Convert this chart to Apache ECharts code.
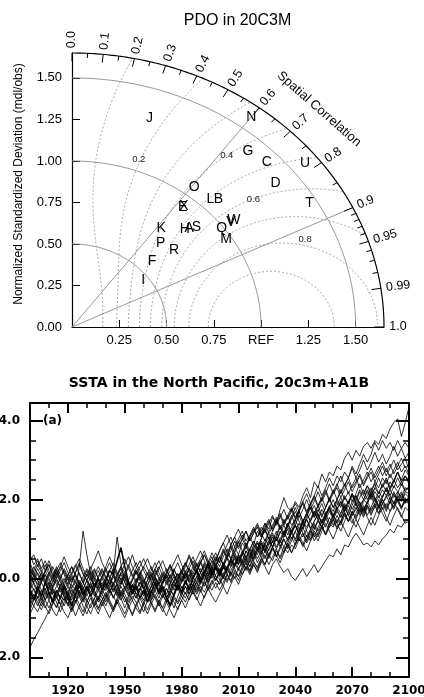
<!DOCTYPE html>
<html>
<head>
<meta charset="utf-8">
<script src="https://cdn.jsdelivr.net/npm/echarts@6/dist/echarts.min.js"></script>
<style>
html,body{margin:0;padding:0;background:#fff;}
#chart{width:424px;height:697px;}
</style>
</head>
<body>
<div id="chart"></div>
<script>
// ---------- Taylor diagram: PDO in 20C3M ----------
const stdMax = 1.65;
const modelLetters = ['A','B','C','D','E','F','G','H','I','J','K','L','M','N','O','P','Q','R','S','T','U','V','W','X'];
const modelStd  = [0.86,1.09,1.43,1.38,0.93,0.58,1.41,0.84,0.47,1.32,0.76,1.06,0.97,1.58,1.06,0.69,0.99,0.71,0.89,1.46,1.58,1.05,1.07,0.94];
const modelCorr = [0.72,0.71,0.72,0.78,0.63,0.73,0.66,0.71,0.80,0.31,0.62,0.69,0.84,0.60,0.61,0.68,0.80,0.76,0.74,0.86,0.78,0.80,0.80,0.63];
const stdArcs = [0.5, 1.0, 1.5];
const corrRays = [0.6, 0.9];
const skillLevels = [0.1,0.2,0.3,0.4,0.5,0.6,0.7,0.8,0.9];
const skillTags = ['0.2','0.4','0.6','0.8'];
const skillTagStd = [1.07,1.32,1.23,1.34];
const skillTagCorr = [0.33,0.62,0.78,0.92];
const corrMajor = [0,0.1,0.2,0.3,0.4,0.5,0.6,0.7,0.8,0.9,0.95,0.99,1.0];
const corrMajorText = ['0.0','0.1','0.2','0.3','0.4','0.5','0.6','0.7','0.8','0.9','0.95','0.99','1.0'];
const corrMinor = [0.05,0.15,0.25,0.35,0.45,0.55,0.65,0.75,0.85,0.91,0.92,0.93,0.94,0.96,0.97,0.98];
const stdTicks = [0.25,0.5,0.75,1.0,1.25,1.5];
const stdTicksY = [0,0.25,0.5,0.75,1.0,1.25,1.5];

// ---------- SSTA in the North Pacific, 20c3m+A1B ----------
const runYears = [];
for (let y = 1900; y <= 2100; y += 2) runYears.push(y);
const obsYears = [];
for (let y = 1900; y <= 2004; y += 2) obsYears.push(y);
const yearTicks = [1920,1950,1980,2010,2040,2070];
const yearLabels = [1920,1950,1980,2010,2040,2070,2100];
const sstaLabels = [-2,0,2,4];

const runA = [-1.75,-1.55,-1.38,-1.2,-1.02,-0.82,-0.6,-0.72,-0.45,-0.55, -0.38,-0.62,-0.5,-0.3,-0.44,-0.2,-0.35,-0.12,-0.28,-0.4, -0.22,-0.05,-0.3,-0.18,0.02,-0.25,-0.4,-0.15,-0.3,-0.1, -0.28,-0.05,0.1,-0.15,-0.32,-0.12,0.05,-0.2,-0.08,0.12, -0.05,0.15,-0.1,0.05,0.22,0.0,0.18,0.3,0.08,0.25,
  0.12,0.35,0.2,0.45,0.3,0.5,0.62,0.4,0.58,0.75, 0.6,0.85,0.7,0.95,0.8,1.05,0.9,1.15,1.0,1.2, 1.35,1.1,1.3,1.5,1.28,1.45,1.62,1.4,1.6,1.75, 1.55,1.8,1.65,1.9,1.7,1.95,2.1,1.85,2.0,1.9, 2.15,1.95,2.2,2.05,2.3,2.1,2.35,2.2,2.05,2.3, 2.25];
const runB = [0.2,0.05,-0.15,0.1,-0.05,-0.3,-0.1,0.15,-0.05,-0.25, -0.4,-0.15,-0.3,0.3,1.2,0.6,0.1,-0.2,0.0,-0.25, -0.3,-0.12,0.1,-0.2,-0.45,-0.25,-0.05,-0.3,-0.15,0.05, -0.2,-0.4,-0.22,0.0,-0.15,0.1,-0.1,-0.3,-0.05,0.12, -0.1,0.08,0.25,0.05,-0.12,0.15,0.3,0.1,0.28,0.05,
  0.0,-0.2,0.1,-0.05,0.2,0.05,0.25,0.4,0.15,0.35, 0.2,0.45,0.3,0.1,0.35,0.5,0.3,0.15,0.25,0.05, -0.05,0.1,0.25,0.05,0.2,0.35,0.15,0.3,0.45,0.6, 0.55,0.75,0.6,0.85,0.8,1.0,1.15,1.0,0.85,0.9, 0.8,0.95,0.85,1.0,1.1,1.25,1.15,1.35,1.3,1.45, 1.5];
const runC = [-0.3,-0.1,0.15,-0.05,0.2,0.0,-0.2,0.05,0.3,0.1, -0.15,0.05,-0.1,-0.35,-0.15,0.1,-0.05,0.2,0.0,-0.2, 0.05,-0.15,0.1,-0.1,0.15,0.0,-0.25,-0.05,0.2,0.05, -0.1,0.15,-0.05,0.2,0.0,-0.15,0.1,-0.1,0.2,0.05, 0.2,0.0,0.25,0.1,0.35,0.15,0.4,0.2,0.45,0.3,
  0.55,0.35,0.65,0.5,0.8,0.6,0.9,0.75,1.05,0.85, 1.2,1.05,1.4,1.25,1.55,1.4,1.75,2.05,1.8,1.7, 1.95,1.8,2.1,2.3,2.05,2.45,2.3,2.65,2.45,2.7, 2.6,2.85,2.75,3.05,3.2,3.0,3.25,3.1,3.35,3.45, 3.3,3.5,3.4,3.65,3.55,3.8,3.95,4.05,3.6,3.95, 4.35];
const runD = [-0.5,-0.7,-0.45,-0.6,-0.35,-0.55,-0.3,-0.5,-0.65,-0.4, -0.55,-0.3,-0.45,-0.2,-0.4,-0.6,-0.35,-0.15,-0.3,-0.1, -0.25,0.0,0.2,1.05,0.35,-0.1,-0.3,-0.15,-0.4,-0.25, -0.45,-0.2,-0.35,-0.1,-0.3,-0.5,-0.25,-0.4,-0.2,-0.05, -0.25,-0.1,0.1,-0.05,-0.2,0.05,0.2,0.0,0.15,0.3,
  0.2,0.4,0.25,0.5,0.35,0.6,0.45,0.7,0.55,0.8, 0.9,0.75,1.0,0.85,1.1,0.95,1.2,1.05,1.3,1.15, 1.35,1.2,1.45,1.3,1.5,1.7,1.5,1.75,1.6,1.85, 1.7,1.95,1.8,2.05,1.9,2.15,2.0,2.25,2.1,2.35, 2.2,2.45,2.3,2.55,2.4,2.65,2.45,2.7,2.5,2.75, 2.6];
const runE = [0.45,0.6,0.3,0.5,0.2,0.35,0.05,0.25,0.0,-0.2, 0.05,-0.1,0.15,0.35,0.1,-0.05,0.2,0.0,-0.2,0.05, 0.25,0.05,-0.15,0.1,0.3,0.15,-0.05,0.2,0.4,0.2, 0.0,-0.2,0.05,0.25,0.05,-0.1,0.15,0.35,0.1,-0.05, 0.2,0.4,0.15,0.0,0.25,0.45,0.2,0.05,0.35,0.55,
  0.4,0.7,0.55,0.85,0.65,0.9,1.1,0.85,1.05,1.25, 1.05,1.3,1.15,1.4,1.6,1.35,1.55,1.75,1.5,1.7, 1.9,1.7,1.95,2.15,1.9,2.1,2.35,2.1,2.3,2.55, 2.35,2.6,2.45,2.7,2.55,2.85,2.65,2.9,3.15,2.95, 3.15,3.45,3.25,3.5,3.3,3.45,3.25,3.5,3.3,3.45, 3.3];
const runF = [-0.9,-0.7,-0.85,-0.6,-0.75,-0.55,-0.8,-0.95,-0.7,-0.5, -0.65,-0.85,-0.6,-0.45,-0.7,-0.9,-0.65,-0.5,-0.75,-0.55, -0.4,-0.6,-0.8,-0.55,-0.35,-0.5,-0.7,-0.9,-0.65,-0.45, -0.6,-0.8,-0.55,-0.4,-0.6,-0.75,-0.5,-0.3,-0.45,-0.6, -0.35,-0.5,-0.25,-0.4,-0.2,-0.35,-0.1,-0.3,-0.15,0.0,
  -0.15,0.05,-0.1,0.15,0.0,0.25,0.1,0.3,0.2,0.4, 0.3,0.5,0.35,0.6,0.45,0.7,0.55,0.8,0.65,0.85, 0.75,1.0,0.85,1.1,0.95,1.2,1.05,1.3,1.15,1.4, 1.3,1.5,1.35,1.6,1.45,1.7,1.55,1.8,1.6,1.85, 1.7,1.9,1.75,2.0,1.8,2.05,1.9,2.1,1.95,2.15, 2.05];
const runG = [0.1,-0.15,-0.35,-0.1,0.1,-0.05,-0.25,-0.45,-0.2,0.0, -0.2,-0.4,-0.6,-0.35,-0.55,-0.3,-0.1,-0.3,-0.5,-0.7, -0.5,-0.3,-0.45,-0.65,-0.4,-0.2,-0.35,-0.55,-0.3,-0.1, -0.25,-0.45,-0.2,0.0,-0.2,-0.4,-0.6,-0.35,-0.15,-0.3, -0.1,0.1,-0.1,-0.3,-0.05,0.15,-0.05,0.2,0.0,0.25,
  0.1,0.3,0.5,0.3,0.55,0.35,0.6,0.8,0.6,0.85, 0.7,0.9,0.7,0.95,1.15,0.95,1.15,1.35,1.1,1.3, 1.5,1.25,1.45,1.65,1.45,1.65,1.85,1.6,1.8,2.0, 1.8,2.0,1.85,2.1,1.9,2.15,1.95,2.2,2.0,2.25, 2.05,2.3,2.15,2.4,2.2,2.45,2.3,2.55,2.35,2.6, 2.5];
const runH = [-0.2,0.0,0.25,0.05,-0.15,0.1,0.3,0.1,-0.1,-0.3, -0.1,0.1,-0.1,-0.25,-0.05,0.2,0.0,-0.2,0.05,0.25, 0.05,-0.15,-0.35,-0.1,0.1,-0.1,-0.3,-0.05,0.15,-0.05, -0.25,-0.45,-0.2,0.05,-0.15,-0.35,-0.1,0.1,-0.1,-0.3, -0.05,0.15,-0.05,0.2,0.4,0.15,0.35,0.1,0.3,0.5,
  0.3,0.55,0.75,0.5,0.7,0.95,0.7,0.5,0.75,0.95, 0.75,1.0,1.25,1.0,0.8,1.05,1.3,1.1,1.35,1.6, 1.35,1.15,1.4,1.65,1.45,1.7,1.5,1.3,1.55,1.8, 1.6,1.85,2.05,1.8,1.6,1.85,2.1,1.9,1.7,1.95, 2.2,2.0,1.8,2.05,2.3,2.1,1.9,2.15,2.4,2.2, 2.35];
const runI = [0.3,0.1,0.35,0.15,-0.1,0.15,-0.05,0.2,0.0,0.25, 0.05,0.3,0.1,-0.15,0.05,0.25,0.05,-0.2,0.0,0.2, 0.0,0.2,0.4,0.15,-0.05,0.15,0.35,0.1,-0.1,0.1, 0.3,0.1,-0.1,0.1,0.3,0.05,-0.15,0.05,0.25,0.0, 0.2,0.0,0.25,0.45,0.2,0.4,0.15,0.35,0.55,0.3,
  0.5,0.75,0.5,0.7,0.95,0.75,1.0,1.2,0.95,1.15, 1.3,1.05,1.25,1.45,1.2,1.4,1.6,1.35,1.55,1.75, 1.5,1.7,1.9,1.65,1.85,2.05,1.8,2.0,2.2,1.95, 2.15,2.3,2.05,2.25,2.45,2.2,2.4,2.6,2.35,2.55, 2.7,2.45,2.65,2.85,2.6,2.8,3.0,2.75,2.9,3.05, 2.75];
const runJ = [-0.6,-0.4,-0.6,-0.8,-0.55,-0.35,-0.55,-0.75,-0.5,-0.3, -0.5,-0.7,-0.95,-0.7,-0.5,-0.7,-0.9,-0.65,-0.45,-0.6, -0.8,-1.0,-0.75,-0.55,-0.7,-0.9,-0.65,-0.45,-0.6,-0.85, -0.6,-0.4,-0.6,-0.8,-0.55,-0.75,-0.95,-0.7,-0.5,-0.65, -0.45,-0.6,-0.4,-0.2,-0.4,-0.2,-0.35,-0.15,-0.3,-0.1,
  -0.3,-0.1,0.1,-0.1,0.15,-0.05,0.2,0.4,0.2,0.45, 0.25,0.5,0.7,0.5,0.75,0.55,0.8,1.0,0.8,1.05, 0.85,1.1,1.3,1.05,1.25,1.05,1.3,1.5,1.3,1.55, 1.35,1.6,1.4,1.65,1.45,1.7,1.5,1.75,1.55,1.8, 1.6,1.85,1.65,1.9,1.7,1.95,1.75,2.0,1.8,2.05, 1.9];
const runK = [0.0,0.2,0.45,0.2,0.0,-0.2,0.05,0.3,0.1,-0.15, -0.35,-0.1,0.1,-0.1,-0.3,-0.05,0.15,-0.05,-0.25,0.0, 0.2,0.0,-0.2,-0.4,-0.15,0.05,-0.15,-0.35,-0.1,0.1, -0.1,0.1,0.3,0.05,-0.15,0.05,0.25,0.0,-0.2,0.0, 0.2,0.4,0.2,0.0,0.2,0.4,0.6,0.35,0.15,0.35,
  0.55,0.35,0.55,0.8,0.55,0.35,0.6,0.85,0.65,0.45, 0.7,0.95,0.75,0.55,0.8,1.05,0.85,0.65,0.9,1.15, 0.95,1.2,1.45,1.2,1.0,1.25,1.5,1.3,1.1,1.35, 1.6,1.4,1.2,1.45,1.7,1.5,1.3,1.55,1.8,1.55, 1.35,1.6,1.85,1.65,1.45,1.7,1.95,1.75,1.55,1.8, 1.7];
const runL = [-0.35,-0.55,-0.3,-0.1,-0.3,-0.5,-0.25,-0.05,-0.25,-0.45, -0.65,-0.4,-0.2,-0.4,-0.6,-0.35,-0.15,-0.35,-0.55,-0.3, -0.1,-0.3,-0.5,-0.25,-0.05,-0.25,-0.45,-0.2,0.0,-0.2, -0.4,-0.15,0.05,-0.15,-0.35,-0.1,0.1,-0.1,-0.3,-0.05, 0.15,-0.05,-0.25,0.0,0.2,0.0,-0.2,0.05,0.25,0.05,
  -0.15,0.1,0.3,0.1,0.35,0.55,0.3,0.5,0.75,0.5, 0.7,0.9,0.65,0.85,1.05,0.8,1.0,1.2,0.95,1.15, 1.35,1.1,1.3,1.5,1.25,1.45,1.65,1.4,1.6,1.8, 1.55,1.75,1.95,1.7,1.9,2.1,1.85,2.05,2.25,2.0, 2.2,2.4,2.15,2.35,2.55,2.3,2.5,2.7,2.45,2.6, 2.45];
const runM = [-0.1,-0.3,-0.5,-0.3,-0.55,-0.75,-0.5,-0.3,-0.5,-0.7, -0.45,-0.25,-0.45,-0.65,-0.85,-0.6,-0.4,-0.6,-0.8,-0.55, -0.35,-0.55,-0.75,-0.5,-0.3,-0.5,-0.7,-0.95,-0.7,-0.5, -0.7,-0.9,-0.65,-0.45,-0.65,-0.85,-0.6,-0.4,-0.6,-0.8, -0.55,-0.35,-0.55,-0.3,-0.1,-0.3,-0.5,-0.25,-0.05,-0.25,
  -0.05,0.15,-0.05,0.2,0.4,0.2,0.45,0.25,0.5,0.7, 0.5,0.7,0.5,0.75,0.95,0.75,0.95,0.8,1.0,1.2, 1.0,1.2,1.05,1.25,1.45,1.25,1.45,1.3,1.5,1.7, 1.5,1.7,1.55,1.75,1.95,1.75,1.95,1.8,2.0,2.2, 2.0,2.2,2.05,2.25,2.1,2.3,2.5,2.3,2.45,2.25, 2.3];
const runN = [0.6,0.35,0.5,0.25,0.45,0.2,0.0,0.2,0.4,0.15, -0.05,0.15,0.35,0.1,-0.1,0.1,0.3,0.05,-0.15,0.05, 0.3,0.55,0.3,0.1,0.3,0.5,0.25,0.05,0.25,0.45, 0.2,0.0,0.2,0.4,0.15,-0.05,0.15,0.35,0.1,-0.1, 0.1,0.3,0.55,0.3,0.5,0.7,0.45,0.25,0.45,0.65,
  0.4,0.65,0.85,1.05,0.8,1.0,1.2,0.95,1.1,1.3, 1.05,1.2,1.4,1.15,1.3,1.5,1.25,1.4,1.6,1.35, 1.5,1.7,1.45,1.6,1.8,1.55,1.7,1.9,1.65,1.8, 1.6,1.75,1.95,1.7,1.85,1.6,1.75,1.95,1.7,1.85, 1.65,1.8,2.0,1.75,1.9,1.7,1.85,2.05,1.8,1.95, 2.0];
const runO = [-0.25,-0.45,-0.7,-0.45,-0.25,-0.45,-0.2,0.0,-0.2,-0.4, -0.2,0.0,-0.2,-0.45,-0.25,-0.05,-0.25,-0.45,-0.2,-0.4, -0.6,-0.35,-0.15,-0.35,-0.55,-0.3,-0.1,-0.3,-0.5,-0.25, -0.05,-0.25,-0.45,-0.2,0.0,-0.2,-0.4,-0.15,0.05,-0.15, -0.35,-0.1,0.1,-0.1,-0.3,-0.05,0.15,-0.05,0.2,0.4,
  0.2,0.0,0.25,0.45,0.25,0.05,0.3,0.5,0.3,0.55, 0.75,0.55,0.35,0.6,0.8,0.6,0.4,0.65,0.85,0.65, 0.9,1.1,0.9,0.7,0.95,1.15,0.95,1.2,1.4,1.2, 1.0,1.25,1.45,1.25,1.05,1.3,1.5,1.3,1.1,1.35, 1.55,1.35,1.6,1.8,1.55,1.35,1.6,1.8,1.6,1.4, 1.45];
const runP = [0.25,0.05,-0.2,0.0,0.2,0.45,0.2,0.0,0.2,0.4, 0.15,-0.05,0.15,0.4,0.15,-0.05,-0.25,0.0,0.2,0.0, -0.2,0.0,0.25,0.05,-0.15,0.05,0.3,0.6,0.3,0.1, 0.3,0.5,0.25,0.05,0.25,0.45,0.2,0.0,0.2,0.4, 0.15,0.35,0.6,0.35,0.15,0.4,0.6,0.4,0.65,0.45,
  0.7,0.9,0.65,0.85,1.05,0.8,1.0,1.2,0.95,1.15, 1.35,1.1,1.3,1.5,1.25,1.45,1.65,1.4,1.6,1.8, 1.55,1.75,1.95,1.7,1.9,2.1,1.85,2.05,2.25,2.0, 2.2,2.4,2.15,2.35,2.55,2.3,2.45,2.65,2.4,2.6, 2.8,2.55,2.75,2.95,2.7,2.9,2.65,2.85,3.05,2.8, 2.9];
const runQ = [-0.7,-0.5,-0.3,-0.5,-0.7,-0.9,-0.65,-0.45,-0.65,-0.85, -1.0,-0.75,-0.55,-0.75,-0.95,-0.7,-0.5,-0.7,-0.9,-0.65, -0.45,-0.65,-0.85,-0.6,-0.8,-1.0,-0.75,-0.55,-0.75,-0.9, -0.65,-0.45,-0.65,-0.85,-0.6,-0.4,-0.6,-0.8,-1.0,-0.75, -0.55,-0.75,-0.5,-0.3,-0.5,-0.7,-0.45,-0.25,-0.45,-0.6,
  -0.4,-0.2,-0.4,-0.15,0.05,-0.15,0.1,0.3,0.1,0.35, 0.15,0.4,0.6,0.35,0.55,0.75,0.5,0.7,0.9,0.65, 0.85,1.05,0.8,1.0,1.2,0.95,1.15,1.35,1.1,1.3, 1.5,1.3,1.45,1.65,1.45,1.6,1.8,1.6,1.75,1.95, 1.75,1.9,2.1,1.9,2.05,2.25,2.05,2.2,2.0,2.2, 2.15];
const runR = [0.4,0.15,-0.05,0.15,0.35,0.1,-0.1,0.1,0.3,0.55, 0.3,0.1,0.3,0.5,0.25,0.05,0.25,0.45,0.7,0.4, 0.2,0.4,0.15,-0.05,0.15,0.35,0.55,0.3,0.1,0.3, 0.5,0.25,0.05,0.25,0.45,0.2,0.0,0.2,0.4,0.6, 0.35,0.15,0.35,0.55,0.3,0.5,0.7,0.45,0.25,0.45,
  0.7,0.9,1.1,0.85,1.05,1.25,1.0,0.8,1.05,1.2, 1.4,1.15,0.95,1.2,1.35,1.55,1.3,1.1,1.35,1.5, 1.7,1.45,1.25,1.5,1.65,1.85,1.6,1.4,1.65,1.8, 2.0,1.75,1.55,1.8,1.95,2.15,1.9,1.7,1.95,2.1, 2.3,2.05,1.85,2.1,2.25,2.0,1.8,2.05,2.2,1.95, 1.9];
const runS = [-0.15,0.1,-0.05,-0.3,-0.55,-0.35,-0.6,-0.4,-0.15,-0.35, -0.55,-0.8,-0.6,-0.35,-0.5,-0.25,-0.45,-0.7,-0.5,-0.3, -0.45,-0.2,0.05,-0.15,-0.4,-0.6,-0.45,-0.2,-0.4,-0.65, -0.85,-0.55,-0.3,-0.5,-0.7,-0.45,-0.25,-0.5,-0.75,-0.45, -0.2,-0.4,-0.15,-0.35,-0.55,-0.3,-0.05,-0.25,-0.1,0.1,
  0.25,0.05,0.3,0.5,0.3,0.6,0.4,0.7,0.5,0.75, 0.95,0.7,0.9,1.15,0.9,1.1,1.35,1.15,1.4,1.2, 1.45,1.7,1.45,1.65,1.9,1.6,1.85,2.05,1.8,2.0, 2.25,2.0,2.2,2.4,2.15,2.35,2.55,2.3,2.5,2.7, 2.45,2.65,2.85,2.6,2.8,2.55,2.75,2.95,2.7,2.85, 2.65];
const runT = [0.15,-0.1,-0.3,-0.05,0.15,0.35,0.1,-0.15,-0.35,-0.1, 0.1,0.3,0.05,-0.2,-0.4,-0.2,0.05,0.25,0.0,-0.2, -0.05,-0.25,-0.5,-0.3,-0.1,0.1,-0.1,-0.3,-0.05,0.15, -0.05,-0.3,-0.5,-0.25,-0.05,0.15,-0.05,-0.25,-0.45,-0.2, 0.0,0.2,0.0,-0.2,0.05,0.25,0.05,-0.15,0.1,0.35,
  0.15,0.4,0.2,0.45,0.65,0.45,0.7,0.5,0.3,0.55, 0.8,0.6,0.85,1.05,0.8,1.0,0.8,1.05,1.25,1.0, 1.2,1.4,1.15,0.95,1.2,1.4,1.2,1.45,1.65,1.4, 1.6,1.4,1.65,1.85,1.6,1.4,1.65,1.85,1.65,1.9, 2.1,1.85,1.65,1.9,2.1,1.9,2.15,1.95,1.75,2.0, 1.95];
const runU = [-0.45,-0.25,-0.5,-0.7,-0.45,-0.2,-0.4,-0.6,-0.85,-0.6, -0.35,-0.55,-0.3,-0.1,-0.3,-0.55,-0.75,-0.5,-0.3,-0.5, -0.7,-0.45,-0.25,-0.45,-0.2,-0.4,-0.6,-0.35,-0.15,-0.35, -0.55,-0.3,-0.1,-0.3,-0.5,-0.25,-0.45,-0.65,-0.4,-0.2, -0.4,-0.2,-0.4,-0.15,0.05,-0.15,0.1,-0.1,0.15,-0.05,
  0.2,0.0,0.25,0.05,0.3,0.55,0.35,0.6,0.4,0.65, 0.9,0.65,0.9,0.7,0.95,1.2,0.95,1.15,1.4,1.15, 1.35,1.6,1.35,1.55,1.8,1.55,1.75,1.55,1.8,2.05, 1.8,2.0,2.25,2.0,2.2,1.95,2.15,2.4,2.15,2.35, 2.1,2.3,2.55,2.3,2.5,2.25,2.45,2.7,2.45,2.6, 2.4];
const runV = [0.05,0.3,0.1,-0.1,0.1,-0.15,-0.4,-0.2,0.0,0.2, 0.0,-0.25,-0.05,0.15,-0.1,-0.3,-0.1,0.1,0.3,0.1, -0.15,-0.35,-0.15,0.05,0.25,0.05,-0.2,0.0,0.2,0.0, -0.25,-0.05,0.15,-0.05,-0.3,-0.1,0.1,0.3,0.05,-0.15, 0.05,-0.15,0.05,0.3,0.1,-0.1,0.15,0.35,0.15,-0.05,
  0.15,0.35,0.1,0.3,0.5,0.25,0.45,0.2,0.45,0.65, 0.4,0.6,0.85,0.6,0.8,0.55,0.75,1.0,0.75,0.95, 1.2,0.95,1.15,0.9,1.1,1.35,1.1,1.3,1.55,1.3, 1.5,1.25,1.45,1.7,1.45,1.65,1.9,1.65,1.85,1.6, 1.8,2.05,1.8,2.0,1.75,1.95,2.2,1.95,2.15,1.9, 2.1];
const runW = [-0.8,-0.55,-0.35,-0.55,-0.3,-0.1,-0.3,-0.5,-0.25,-0.45, -0.7,-0.45,-0.25,-0.05,-0.25,-0.45,-0.2,-0.4,-0.6,-0.35, -0.15,-0.35,-0.1,-0.3,-0.5,-0.75,-0.5,-0.3,-0.5,-0.3, -0.1,-0.3,-0.55,-0.3,-0.1,-0.3,-0.5,-0.3,-0.05,-0.25, -0.45,-0.2,-0.4,-0.15,-0.35,-0.1,0.1,-0.1,0.1,0.3,
  0.1,0.3,0.55,0.35,0.6,0.4,0.65,0.9,0.7,0.95, 0.75,1.0,1.25,1.0,1.2,1.45,1.25,1.5,1.3,1.55, 1.8,1.55,1.75,2.0,1.75,1.95,2.2,1.95,2.15,2.4, 2.15,2.35,2.6,2.35,2.55,2.8,2.55,2.75,3.0,2.75, 2.95,3.2,2.95,3.15,2.9,3.1,3.35,3.1,3.3,3.05, 3.2];
const obsSsta = [-0.3,-0.55,-0.2,-0.45,-0.1,-0.35,-0.6,-0.3,-0.5,-0.2, -0.45,-0.7,-0.4,-0.15,-0.4,-0.2,-0.45,-0.25,0.0,-0.3, -0.05,0.2,0.1,0.45,0.78,0.3,-0.1,-0.4,-0.2,-0.5, -0.3,-0.6,-0.35,-0.1,-0.4,-0.2,-0.5,-0.7,-0.4,-0.15, -0.35,-0.05,-0.3,0.0,0.2,-0.1,0.15,0.4,0.1,0.3, 0.05,0.3,0.15];

const runs = [runA,runB,runC,runD,runE,runF,runG,runH,runI,runJ,runK,runL,runM,runN,runO,runP,runQ,runR,runS,runT,runU,runV,runW];

// ---------- drawing ----------
const sans = '"Liberation Sans", Arial, Helvetica, sans-serif';
const bold = '"DejaVu Sans", "Liberation Sans", sans-serif';

function toXY(s, r) { return [s * r, s * Math.sqrt(Math.max(0, 1 - r * r))]; }

function guide(points, style, z) {
  return {
    type: 'line', xAxisIndex: 0, yAxisIndex: 0, data: points,
    showSymbol: false, symbol: 'none', silent: true, animation: false, clip: false,
    lineStyle: style, z: z || 2
  };
}

const series = [];

// standard-deviation arcs
stdArcs.forEach(function (s) {
  const pts = [];
  for (let a = 0; a <= 90; a += 1) pts.push(toXY(s, Math.cos(a * Math.PI / 180)));
  series.push(guide(pts, { color: '#8c8c8c', width: 0.9 }));
});

// skill-score contours, S = (1+R)^4 / (4 (s + 1/s)^2)
skillLevels.forEach(function (S) {
  const tMax = Math.acosh(1 / Math.sqrt(S));
  const tHi = Math.min(tMax, Math.log(stdMax));
  const pts = [];
  const n = 260;
  for (let i = 0; i <= n; i++) {
    const t = -tMax + (tHi + tMax) * i / n;
    const s = Math.exp(t);
    const r = Math.min(1, 2 * Math.pow(S, 0.25) * Math.sqrt(Math.cosh(t)) - 1);
    pts.push(toXY(s, r));
  }
  series.push(guide(pts, { color: '#a0a0a0', width: 0.9, type: [2, 2] }));
});

// correlation rays
corrRays.forEach(function (r) {
  series.push(guide([[0, 0], toXY(stdMax, r)], { color: '#8c8c8c', width: 0.9 }));
});

// outer boundary
(function () {
  const pts = [];
  for (let a = 0; a <= 90; a += 0.5) pts.push(toXY(stdMax, Math.cos(a * Math.PI / 180)));
  series.push(guide(pts, { color: '#000', width: 1.2 }, 4));
})();

// correlation ticks on the boundary
const tickItems = corrMajor.map(function (r) { return [r, stdMax - 0.05]; })
  .concat(corrMinor.map(function (r) { return [r, stdMax - 0.028]; }));
series.push({
  type: 'custom', coordinateSystem: 'cartesian2d', xAxisIndex: 0, yAxisIndex: 0,
  silent: true, animation: false, clip: false, z: 4,
  data: tickItems,
  renderItem: function (params, api) {
    const r = api.value(0), inner = api.value(1);
    const a = api.coord(toXY(stdMax, r));
    const b = api.coord(toXY(inner, r));
    return { type: 'line', shape: { x1: a[0], y1: a[1], x2: b[0], y2: b[1] }, style: { stroke: '#000', lineWidth: 1 } };
  }
});

// correlation labels, written radially
series.push({
  type: 'custom', coordinateSystem: 'cartesian2d', xAxisIndex: 0, yAxisIndex: 0,
  silent: true, animation: false, clip: false, z: 5,
  data: corrMajor.map(function (r) { return [r, 0]; }),
  renderItem: function (params, api) {
    const r = api.value(0);
    const o = api.coord([0, 0]);
    const p = api.coord(toXY(stdMax + 0.028, r));
    const ang = Math.atan2(o[1] - p[1], p[0] - o[0]);
    return {
      type: 'text', x: p[0], y: p[1], rotation: ang,
      style: { text: corrMajorText[params.dataIndex], font: '12.5px ' + sans, fill: '#000', align: 'left', verticalAlign: 'middle' }
    };
  }
});

// skill-score contour labels
series.push({
  type: 'custom', coordinateSystem: 'cartesian2d', xAxisIndex: 0, yAxisIndex: 0,
  silent: true, animation: false, clip: false, z: 5,
  data: skillTagStd.map(function (s, i) { return toXY(s, skillTagCorr[i]); }),
  renderItem: function (params, api) {
    const p = api.coord([api.value(0), api.value(1)]);
    return {
      type: 'text', x: p[0], y: p[1],
      style: { text: skillTags[params.dataIndex], font: '9.5px ' + sans, fill: '#222', align: 'center', verticalAlign: 'middle' }
    };
  }
});

// model letters
series.push({
  type: 'custom', coordinateSystem: 'cartesian2d', xAxisIndex: 0, yAxisIndex: 0,
  silent: true, animation: false, clip: false, z: 6,
  data: modelStd.map(function (s, i) { return toXY(s, modelCorr[i]); }),
  renderItem: function (params, api) {
    const p = api.coord([api.value(0), api.value(1)]);
    return {
      type: 'text', x: p[0], y: p[1],
      style: { text: modelLetters[params.dataIndex], font: '14px ' + sans, fill: '#000', align: 'center', verticalAlign: 'middle' }
    };
  }
});

// ensemble runs
runs.forEach(function (run) {
  series.push({
    type: 'line', xAxisIndex: 1, yAxisIndex: 1,
    data: runYears.map(function (y, i) { return [y, run[i]]; }),
    showSymbol: false, symbol: 'none', silent: true, animation: false,
    lineStyle: { color: '#000', width: 0.8 }, z: 3
  });
});
series.push({
  type: 'line', xAxisIndex: 1, yAxisIndex: 1,
  data: obsYears.map(function (y, i) { return [y, obsSsta[i]]; }),
  showSymbol: false, symbol: 'none', silent: true, animation: false,
  lineStyle: { color: '#000', width: 1.6 }, z: 4
});

const noLabel = { show: false };

const option = {
  animation: false,
  backgroundColor: '#fff',
  grid: [
    { left: 72, top: 53, width: 312, height: 274, containLabel: false, outerBoundsMode: 'none' },
    { left: 30, top: 403, width: 379, height: 274, containLabel: false, outerBoundsMode: 'none' },
    { left: 30, top: 403, width: 379, height: 274, containLabel: false, outerBoundsMode: 'none' }
  ],
  xAxis: [
    { gridIndex: 0, type: 'value', min: 0, max: stdMax, position: 'bottom',
      axisLine: { show: true, onZero: false, lineStyle: { color: '#000', width: 1.2 } },
      axisTick: { show: true, inside: true, length: 7, customValues: stdTicks, lineStyle: { color: '#000', width: 1 } },
      axisLabel: { show: true, customValues: stdTicks, margin: 7, color: '#000', fontFamily: sans, fontSize: 13,
        formatter: function (v) { return Math.abs(v - 1) < 1e-9 ? 'REF' : v.toFixed(2); } },
      splitLine: { show: false } },
    { gridIndex: 1, type: 'value', min: 1900, max: 2100, position: 'bottom',
      axisLine: { show: true, onZero: false, lineStyle: { color: '#000', width: 2 } },
      axisTick: { show: true, inside: true, length: 10, customValues: yearTicks, lineStyle: { color: '#000', width: 2 } },
      axisLabel: { show: true, customValues: yearLabels, margin: 8, color: '#000', fontFamily: bold, fontWeight: 'bold', fontSize: 12,
        formatter: function (v) { return String(v); } },
      splitLine: { show: false } },
    { gridIndex: 1, type: 'value', min: 1900, max: 2100, position: 'top',
      axisLine: { show: true, onZero: false, lineStyle: { color: '#000', width: 2 } },
      axisTick: { show: true, inside: true, length: 10, customValues: yearTicks, lineStyle: { color: '#000', width: 2 } },
      axisLabel: noLabel, splitLine: { show: false } },
    { gridIndex: 2, type: 'value', min: 1900, max: 2100, interval: 10, position: 'bottom',
      axisLine: { show: false, onZero: false },
      axisTick: { show: true, inside: true, length: 5, lineStyle: { color: '#000', width: 1.5 } },
      axisLabel: noLabel, splitLine: { show: false } },
    { gridIndex: 2, type: 'value', min: 1900, max: 2100, interval: 10, position: 'top',
      axisLine: { show: false, onZero: false },
      axisTick: { show: true, inside: true, length: 5, lineStyle: { color: '#000', width: 1.5 } },
      axisLabel: noLabel, splitLine: { show: false } }
  ],
  yAxis: [
    { gridIndex: 0, type: 'value', min: 0, max: stdMax, position: 'left',
      axisLine: { show: true, onZero: false, lineStyle: { color: '#000', width: 1.2 } },
      axisTick: { show: true, inside: true, length: 8, customValues: stdTicksY, lineStyle: { color: '#000', width: 1 } },
      axisLabel: { show: true, customValues: stdTicksY, margin: 10, color: '#000', fontFamily: sans, fontSize: 13,
        formatter: function (v) { return v.toFixed(2); } },
      splitLine: { show: false } },
    { gridIndex: 1, type: 'value', min: -2.5, max: 4.45, position: 'left',
      axisLine: { show: true, onZero: false, lineStyle: { color: '#000', width: 2 } },
      axisTick: { show: true, inside: true, length: 13, customValues: sstaLabels, lineStyle: { color: '#000', width: 2 } },
      axisLabel: { show: true, customValues: sstaLabels, margin: 10, color: '#000', fontFamily: bold, fontWeight: 'bold', fontSize: 12,
        formatter: function (v) { return v.toFixed(1); } },
      splitLine: { show: false } },
    { gridIndex: 1, type: 'value', min: -2.5, max: 4.45, position: 'right',
      axisLine: { show: true, onZero: false, lineStyle: { color: '#000', width: 2 } },
      axisTick: { show: true, inside: true, length: 13, customValues: sstaLabels, lineStyle: { color: '#000', width: 2 } },
      axisLabel: noLabel, splitLine: { show: false } },
    { gridIndex: 2, type: 'value', min: -2.5, max: 4.45, interval: 0.5, position: 'left',
      axisLine: { show: false, onZero: false },
      axisTick: { show: true, inside: true, length: 6, lineStyle: { color: '#000', width: 1.5 } },
      axisLabel: noLabel, splitLine: { show: false } },
    { gridIndex: 2, type: 'value', min: -2.5, max: 4.45, interval: 0.5, position: 'right',
      axisLine: { show: false, onZero: false },
      axisTick: { show: true, inside: true, length: 6, lineStyle: { color: '#000', width: 1.5 } },
      axisLabel: noLabel, splitLine: { show: false } }
  ],
  graphic: [
    { type: 'text', x: 237.5, y: 21, silent: true,
      style: { text: 'PDO in 20C3M', font: '16px ' + sans, fill: '#000', align: 'center', verticalAlign: 'middle' } },
    { type: 'text', x: 19, y: 184, rotation: Math.PI / 2, silent: true,
      style: { text: 'Normalized Standardized Deviation (mdl/obs)', font: '12px ' + sans, fill: '#000', align: 'center', verticalAlign: 'middle' } },
    { type: 'text', x: 319, y: 109, rotation: -0.72, silent: true,
      style: { text: 'Spatial Correlation', font: '13px ' + sans, fill: '#000', align: 'center', verticalAlign: 'middle' } },
    { type: 'text', x: 219, y: 383, silent: true,
      style: { text: 'SSTA in the North Pacific, 20c3m+A1B', font: 'bold 14px ' + bold, fill: '#000', align: 'center', verticalAlign: 'middle' } },
    { type: 'text', x: 43, y: 421, silent: true,
      style: { text: '(a)', font: 'bold 12px ' + bold, fill: '#000', align: 'left', verticalAlign: 'middle' } }
  ],
  series: series
};

const chart = echarts.init(document.getElementById('chart'), null, { renderer: 'canvas' });
chart.setOption(option);
</script>
</body>
</html>
